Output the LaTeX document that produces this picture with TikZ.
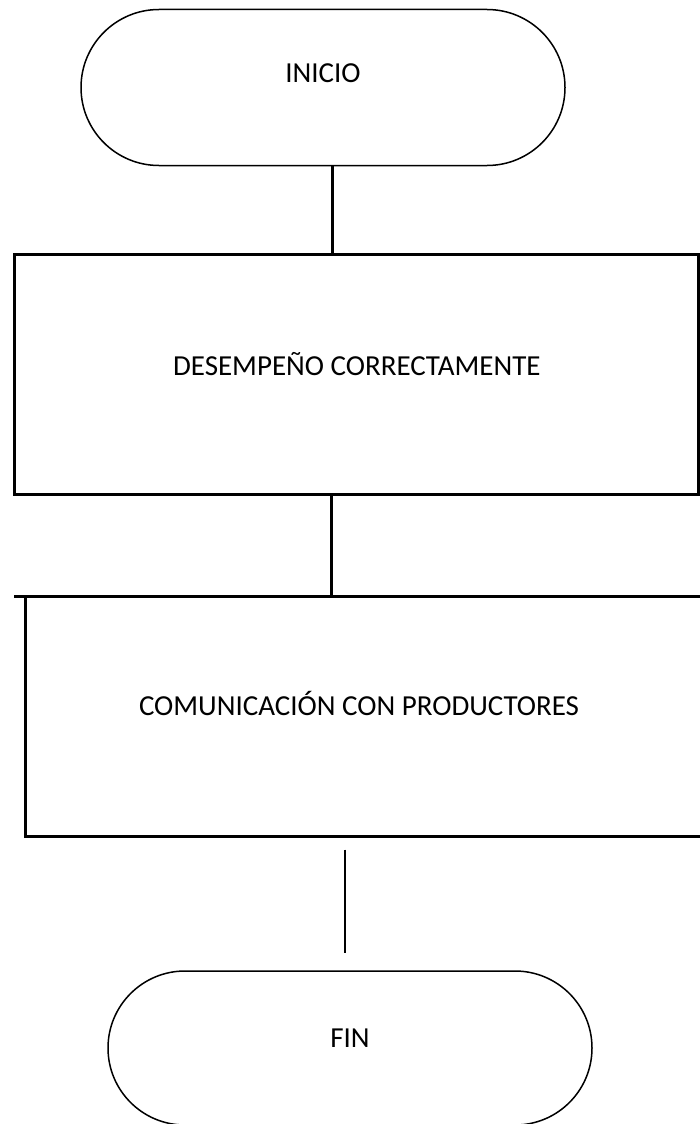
\documentclass[tikz,border=0pt]{standalone}
\usepackage{fontspec}
\setmainfont{Carlito}
\usetikzlibrary{positioning}

\tikzset{
  term/.style={draw, line width=1.5pt, rounded corners=78pt, minimum width=484pt, minimum height=156pt, inner sep=0pt, outer sep=0pt},
  proc/.style={draw, line width=3pt, minimum height=240pt, inner sep=0pt, outer sep=0pt},
  link/.style={line width=3pt}
}

\begin{document}
\begin{tikzpicture}[x=1pt, y=-1pt, font=\fontsize{29}{35}\selectfont]
\useasboundingbox (0,0) rectangle (699,1124);

\node(inicio)[term, label={[yshift=14pt]center:INICIO}] at (323,87.5) {};
\node(desempeno)[proc, minimum width=684pt, label={[yshift=11pt]center:DESEMPEÑO CORRECTAMENTE}] at (356.8,374.6) {};
\node(comunicacion)[proc, minimum width=690pt, label={[xshift=-11pt, yshift=13pt]center:COMUNICACIÓN CON PRODUCTORES}] at (370,716.7) {};
\node(fin)[term, minimum height=154pt, rounded corners=77pt, label={[yshift=10pt]center:FIN}] at (350,1048) {};

\draw[link] ([xshift=9pt]inicio.south) -- ([xshift=9pt]inicio.south |- desempeno.north);
\draw[link] ([xshift=-25pt]desempeno.south) -- ([xshift=-25pt]desempeno.south |- comunicacion.north);
\draw[link] (comunicacion.north west) -- ++(-11,0);
\draw[line width=2.5pt] ([xshift=-25pt, yshift=-13pt]comunicacion.south) -- ([xshift=-5pt, yshift=18pt]fin.north);
\end{tikzpicture}
\end{document}
